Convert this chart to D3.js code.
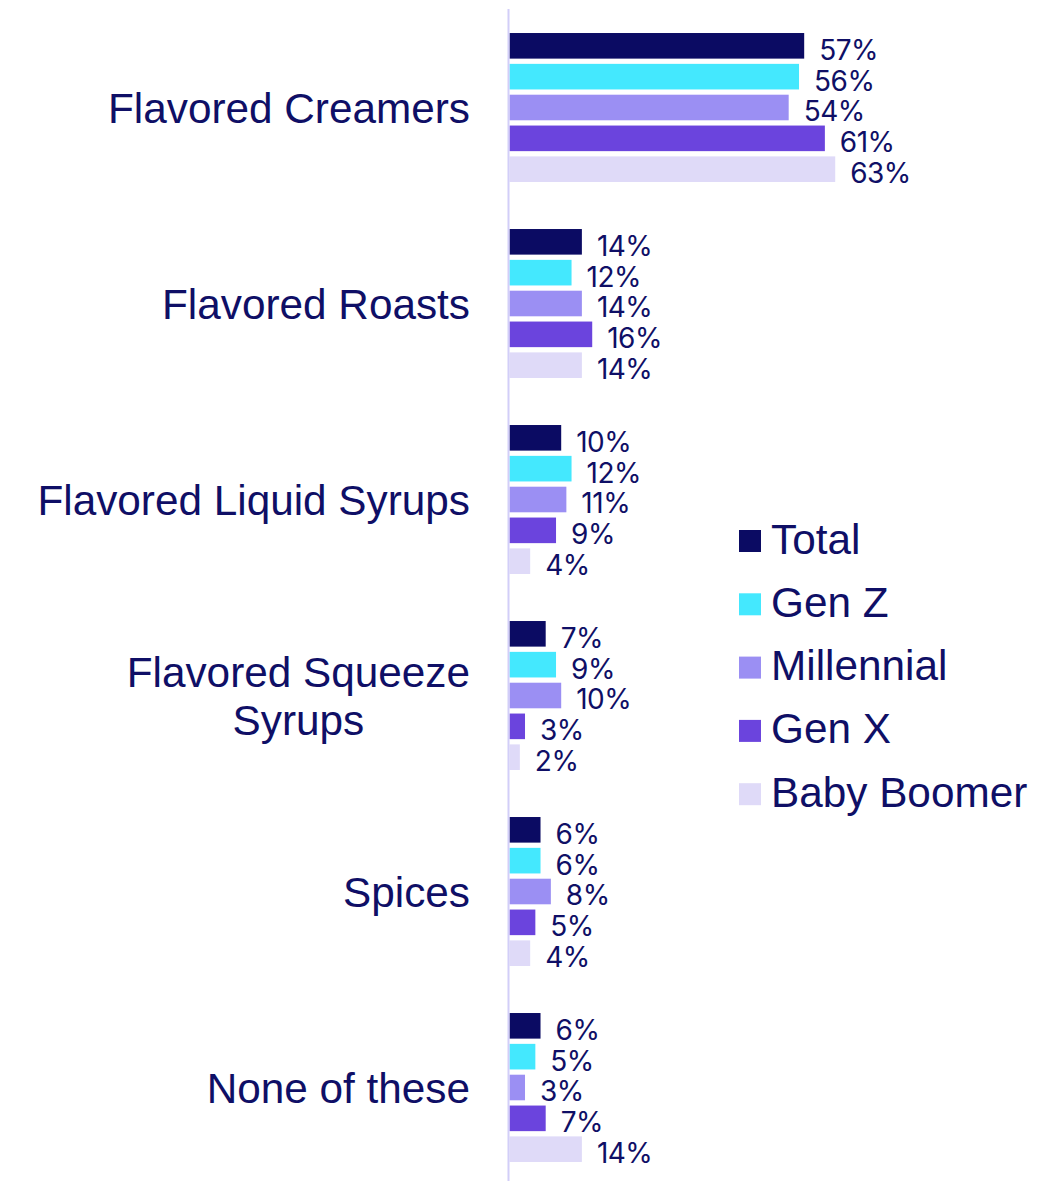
<!DOCTYPE html>
<html>
<head>
<meta charset="utf-8">
<script src="https://cdn.jsdelivr.net/npm/d3@7/dist/d3.min.js"></script>
<style>
  html, body { margin: 0; padding: 0; background: #ffffff; }
  svg { display: block; }
</style>
</head>
<body>
<svg id="chart" width="1058" height="1181"></svg>
<script>
// Usage of flavoured coffee add-ins, by generation (% of respondents)
const categories = [
  ["Flavored Creamers"],
  ["Flavored Roasts"],
  ["Flavored Liquid Syrups"],
  ["Flavored Squeeze", "Syrups"],
  ["Spices"],
  ["None of these"]
];
const seriesNames = ["Total", "Gen Z", "Millennial", "Gen X", "Baby Boomer"];
const seriesColors = ["#0b0b63", "#44e8fe", "#9b8ff3", "#6b44dd", "#dfdaf8"];

const total      = [57, 14, 10, 7, 6, 6];
const genZ       = [56, 12, 12, 9, 6, 5];
const millennial = [54, 14, 11, 10, 8, 3];
const genX       = [61, 16, 9, 3, 5, 7];
const boomer     = [63, 14, 4, 2, 4, 14];
const seriesValues = [total, genZ, millennial, genX, boomer];

const textColor = "#0f0f66";
const svg = d3.select("#chart");

const x = d3.scaleLinear().domain([0, 100]).range([509.5, 509.5 + 517]);

const y0 = d3.scaleBand()
  .domain(d3.range(categories.length))
  .range([9.5, 9.5 + 196 * categories.length])
  .paddingInner(0.24)
  .paddingOuter(0.12);

const y1 = d3.scaleBand()
  .domain(d3.range(seriesNames.length))
  .range([0, y0.bandwidth()])
  .paddingInner(0.17);

// Bars and value labels
const groups = svg.append("g").selectAll("g")
  .data(categories)
  .join("g")
  .attr("transform", (d, i) => `translate(0,${y0(i)})`);

groups.each(function (cat, ci) {
  const g = d3.select(this);
  const rows = seriesNames.map((name, si) => ({ si, v: seriesValues[si][ci] }));
  g.selectAll("rect")
    .data(rows)
    .join("rect")
    .attr("x", x(0))
    .attr("y", d => y1(d.si))
    .attr("width", d => x(d.v) - x(0))
    .attr("height", y1.bandwidth())
    .attr("fill", d => seriesColors[d.si]);
  g.selectAll("text")
    .data(rows)
    .join("text")
    .attr("x", d => x(d.v) + 15)
    .attr("y", d => y1(d.si) + y1.bandwidth() / 2 + 4)
    .attr("dominant-baseline", "central")
    .attr("font-family", "Inter, 'Noto Sans', sans-serif")
    .attr("font-size", 28)
    .attr("letter-spacing", -0.5)
    .attr("fill", textColor)
    .text(d => d.v + "%");
});

// Vertical baseline
svg.append("line")
  .attr("x1", 508.5).attr("x2", 508.5)
  .attr("y1", 9).attr("y2", 1181)
  .attr("stroke", "#d2cef8")
  .attr("stroke-width", 2);

// Category labels, right-aligned to the baseline; multi-line labels centred on each other
const labelRight = 470;
const lineGap = 48;
const labelSize = 42.3;
categories.forEach((lines, ci) => {
  const cy = y0(ci) + y0.bandwidth() / 2;
  const t = svg.append("text")
    .attr("font-family", "'Liberation Sans', Arial, sans-serif")
    .attr("font-size", labelSize)
    .attr("fill", textColor)
    .attr("dominant-baseline", "central");
  lines.forEach((ln, li) => {
    t.append("tspan")
      .attr("y", cy + (li - (lines.length - 1) / 2) * lineGap)
      .text(ln);
  });
  const widths = [];
  t.selectAll("tspan").each(function () { widths.push(this.getComputedTextLength()); });
  const maxW = d3.max(widths);
  if (lines.length > 1) {
    t.attr("text-anchor", "middle");
    t.selectAll("tspan").attr("x", labelRight - maxW / 2);
  } else {
    t.attr("text-anchor", "end");
    t.selectAll("tspan").attr("x", labelRight);
  }
});

// Legend
const legend = svg.append("g").attr("transform", "translate(739,541)");
const legendRows = legend.selectAll("g")
  .data(seriesNames)
  .join("g")
  .attr("transform", (d, i) => `translate(0,${i * 63.3})`);
legendRows.append("rect")
  .attr("x", 0).attr("y", -11)
  .attr("width", 22).attr("height", 22)
  .attr("fill", (d, i) => seriesColors[i]);
legendRows.append("text")
  .attr("x", 32).attr("y", -2)
  .attr("dominant-baseline", "central")
  .attr("font-family", "'Liberation Sans', Arial, sans-serif")
  .attr("font-size", labelSize)
  .attr("fill", textColor)
  .text(d => d);
</script>
</body>
</html>
